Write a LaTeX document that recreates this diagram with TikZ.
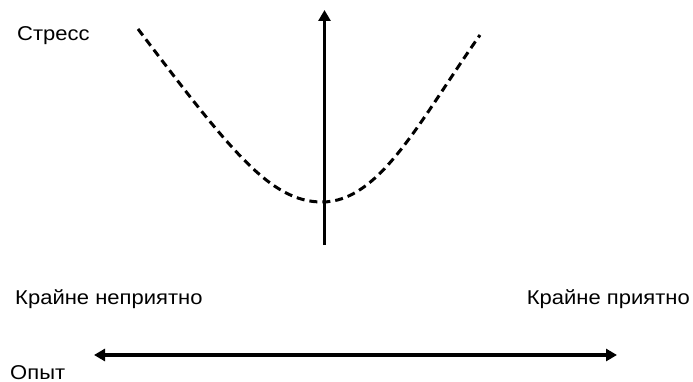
\documentclass[tikz,border=0pt]{standalone}
\usepackage{fontspec}
\setmainfont{Liberation Sans}
\usetikzlibrary{arrows.meta}
\tikzset{
  lbl/.style={inner sep=0pt, anchor=base west, font=\fontsize{20}{24}\selectfont, xscale=1.1},
  axis/.style={line width=3.2pt},
  curve/.style={line width=3pt, dash pattern=on 8pt off 5pt},
  tip/.style={-{Triangle[width=12pt,length=11pt]}},
}
\begin{document}
\begin{tikzpicture}[x=1pt,y=-1pt]
        \useasboundingbox (0,0) rectangle (693,382);
        \node[lbl] (stress) at (17,41) {Стресс};
        \node[lbl] (bad) at (15,304) {Крайне неприятно};
        \node[lbl,anchor=base east] (good) at (690,304) {Крайне приятно};
        \node[lbl] (exp) at (10,379) {Опыт};
        \coordinate (vbot) at (324.5,245);
        \coordinate (vtop) at (324.5,10);
        \coordinate (hleft) at (94,355);
        \coordinate (hright) at (617,355);
        \draw[axis,tip] (vbot) -- (vtop);
        \draw[axis,{Triangle[width=12pt,length=11pt]}-{Triangle[width=12pt,length=11pt]}] (hleft) -- (hright);
        \draw[curve] (138,29) .. controls (230,150) and (270,202) .. (322,202)
                .. controls (380,202) and (420,120) .. (480,35);
\end{tikzpicture}
\end{document}
